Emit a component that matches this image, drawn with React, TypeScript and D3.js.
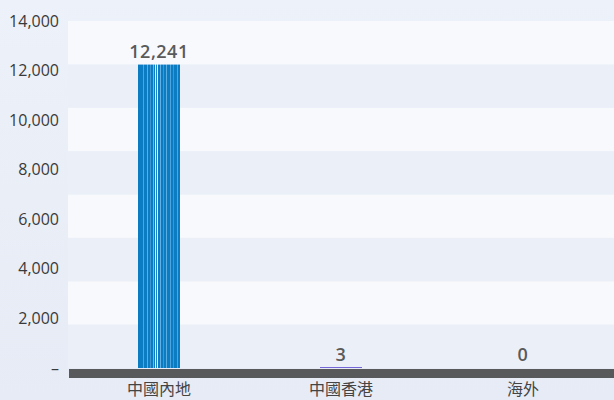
import React from "react";
import * as d3 from "d3";

const categories: string[] = ["中國內地", "中國香港", "海外"];
const values: number[] = [12241, 3, 0];
const valueLabels: string[] = ["12,241", "3", "0"];
const yTicks: number[] = [0, 2000, 4000, 6000, 8000, 10000, 12000, 14000];
const yTickLabels: string[] = ["–", "2,000", "4,000", "6,000", "8,000", "10,000", "12,000", "14,000"];

const W = 614;
const H = 400;
const margin = { top: 21, right: 0, bottom: 32, left: 68 };

// thin stripe texture inside the blue bar (width px, colour)
const barTexture: [number, string][] = [
  [5, "#0b7bc2"], [1, "#4ea5dd"], [3, "#0b7bc2"], [1, "#5aaee2"], [2, "#0b7bc2"],
  [1, "#3b96d3"], [2, "#0b7bc2"], [1, "#6bb6e6"], [1, "#0b7bc2"], [1, "#d9ecf8"],
  [1, "#1a85c9"], [1, "#e6f2fb"], [2, "#0b7bc2"], [1, "#62b1e4"], [2, "#0b7bc2"],
  [1, "#3b96d3"], [2, "#0b7bc2"], [1, "#5aaee2"], [3, "#0b7bc2"], [1, "#4ea5dd"],
  [2, "#0b7bc2"], [1, "#3b96d3"], [3, "#0b7bc2"], [1, "#4ea5dd"], [2, "#0b7bc2"],
];

const App: React.FC = () => {
  const x = d3
    .scaleBand<string>()
    .domain(categories)
    .range([margin.left, W - margin.right])
    .padding(0);
  const y = d3
    .scaleLinear()
    .domain([0, 14000])
    .range([H - margin.bottom, margin.top]);

  const barW = 42;
  const stripes = d3.range(0, 14000, 1750);
  const baseY = y(0);

  return (
    <svg
      width={W}
      height={H}
      style={{ position: "absolute", left: 0, top: 0, display: "block" }}
    >
      <defs>
        <linearGradient id="bg" x1="0" y1="0" x2="0" y2="1">
          <stop offset="0%" stopColor="#edf1f9" />
          <stop offset="100%" stopColor="#e6ebf5" />
        </linearGradient>
      </defs>
      <rect x={0} y={0} width={W} height={H} fill="url(#bg)" />

      {/* alternating bands */}
      {stripes.map((s, i) => (
        <rect
          key={s}
          x={margin.left}
          y={y(s + 1750)}
          width={W - margin.left - margin.right}
          height={y(s) - y(s + 1750)}
          fill={(stripes.length - 1 - i) % 2 === 0 ? "#f7f9fd" : "#ebeff8"}
        />
      ))}

      {/* y axis labels */}
      {yTicks.map((t, i) => (
        <text
          key={t}
          x={59}
          y={y(t)}
          dy="0.35em"
          textAnchor="end"
          fontFamily="'Open Sans', sans-serif"
          fontSize={16}
          fill="#3a3a3a"
        >
          {yTickLabels[i]}
        </text>
      ))}

      {/* bars */}
      {categories.map((c, i) => {
        const cx = (x(c) ?? 0) + x.bandwidth() / 2;
        const left = cx - barW / 2;
        const top = y(values[i]);
        const h = baseY - top;
        if (i === 0) {
          let off = 0;
          return (
            <g key={c}>
              {barTexture.map(([w, col], k) => {
                const r = (
                  <rect key={k} x={left + off} y={top} width={w} height={h} fill={col} />
                );
                off += w;
                return r;
              })}
            </g>
          );
        }
        if (values[i] > 0) {
          return (
            <rect
              key={c}
              x={left}
              y={baseY - Math.max(h, 1)}
              width={barW}
              height={Math.max(h, 1)}
              fill="#7466d6"
            />
          );
        }
        return null;
      })}

      {/* value labels */}
      {categories.map((c, i) => {
        const cx = (x(c) ?? 0) + x.bandwidth() / 2;
        return (
          <text
            key={c}
            x={cx}
            y={y(values[i]) - 7}
            textAnchor="middle"
            fontFamily="'Open Sans', sans-serif"
            fontWeight={600}
            fontSize={18}
            letterSpacing={0.5}
            fill="#5a5a5a"
          >
            {valueLabels[i]}
          </text>
        );
      })}

      {/* baseline */}
      <rect x={margin.left + 1} y={baseY + 1} width={W - margin.left} height={9} fill="#58595b" />

      {/* x labels */}
      {categories.map((c) => (
        <text
          key={c}
          x={(x(c) ?? 0) + x.bandwidth() / 2}
          y={395}
          textAnchor="middle"
          fontFamily="'Noto Sans CJK TC', sans-serif"
          fontSize={16}
          fill="#444"
        >
          {c}
        </text>
      ))}
    </svg>
  );
};

export default App;
